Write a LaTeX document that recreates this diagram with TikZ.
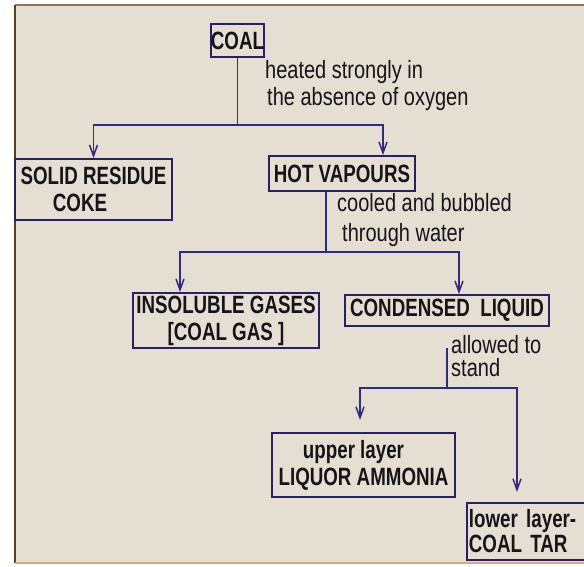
\documentclass[tikz,border=0pt]{standalone}
\usepackage{fontspec}
\usetikzlibrary{arrows.meta}
\newfontfamily\boxfont[FakeStretch=0.75]{Liberation Sans}
\newfontfamily\labfont[FakeStretch=0.8]{Liberation Sans}
\definecolor{bgc}{RGB}{229,222,211}
\definecolor{linec}{RGB}{50,42,130}
\definecolor{boxc}{RGB}{40,32,95}
\definecolor{txtc}{RGB}{22,20,24}
\definecolor{topc}{RGB}{140,120,80}
\definecolor{leftc}{RGB}{95,60,30}
\definecolor{botc}{RGB}{220,170,120}
\begin{document}
\begin{tikzpicture}[x=1pt,y=-1pt,
  box/.style={draw=boxc,line width=1.8pt,inner sep=0pt,text=txtc,font=\boxfont\bfseries\fontsize{25}{27}\selectfont,align=center},
  conn/.style={draw=linec,line width=1.5pt},
  arr/.style={conn,-{Straight Barb[length=11pt,width=8pt]}},
  lab/.style={text=txtc,align=left,anchor=west,inner sep=0pt}]
\useasboundingbox (0,0) rectangle (584,566);
\clip (0,0) rectangle (584,566);
\fill[white] (0,0) rectangle (584,566);
\fill[bgc] (15,5) rectangle (584,563);
\draw[topc,line width=2pt] (15,5) -- (584,5);
\draw[leftc,line width=2pt] (15,5) -- (15,563);
\draw[botc,line width=1.5pt] (15,563) -- (584,563);

\node[box,minimum width=53pt,minimum height=33pt] (coal) at (237.5,40.5) {COAL};
\node[box,minimum width=157pt,minimum height=61pt] (solid) at (93.5,189.5) {SOLID RESIDUE\\COKE\hspace*{27pt}};
\node[box,minimum width=146pt,minimum height=35pt] (hot) at (342,173.5) {HOT VAPOURS};
\node[box,minimum width=186pt,minimum height=55pt] (insol) at (226,320.5) {INSOLUBLE GASES\\{[}COAL GAS ]};
\node[box,minimum width=204pt,minimum height=31pt] (cond) at (447,310.5) {CONDENSED\ \ LIQUID};
\node[box,minimum width=183pt,minimum height=64pt] (upper) at (363.5,465) {upper layer\hspace*{20pt}\\LIQUOR AMMONIA};
\node[box,anchor=west,minimum height=57pt,text width=148pt,inner xsep=2pt,align=left,font=\boxfont\bfseries\fontsize{25}{25}\selectfont] (lower) at (466,531.5) {lower layer-\\COAL TAR};

\coordinate (j1) at (237.5,125);
\draw[conn] (coal.south) -- (j1);
\draw[arr] (j1) -| (solid.north);
\draw[arr] (j1) -| ([xshift=41pt]hot.north);

\coordinate (j2) at (326,252);
\draw[conn] ([xshift=-16pt]hot.south) -- (j2);
\draw[arr] (j2) -| ([xshift=-46pt]insol.north);
\draw[arr] (j2) -| ([xshift=12pt]cond.north);

\coordinate (s3) at (447,348);
\coordinate (j3) at (447,388);
\coordinate (t1) at (360,420);
\coordinate (t2) at (517,492);
\draw[conn] (s3) -- (j3);
\draw[arr] (j3) -| (t1);
\draw[arr] (j3) -| (t2);

\node[lab,font=\labfont\fontsize{25}{27}\selectfont] (l1) at (265,85.5) {heated strongly in\\\hspace*{2pt}the absence of oxygen};
\node[lab,font=\labfont\fontsize{25}{30}\selectfont] (l2) at (337,220) {cooled and bubbled\\\hspace*{5pt}through water};
\node[lab,font=\labfont\fontsize{25}{23}\selectfont] (l3) at (451,356.5) {allowed to\\stand};
\end{tikzpicture}
\end{document}
